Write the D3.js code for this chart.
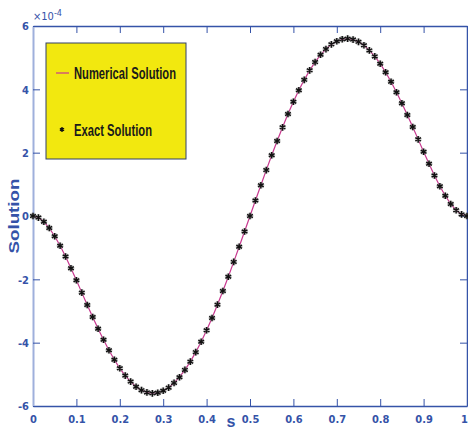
<!DOCTYPE html>
<html>
<head>
<meta charset="utf-8">
<script src="https://cdn.jsdelivr.net/npm/d3@7"></script>
<style>
  body { margin: 0; background: #fff; }
  svg text { font-family: "DejaVu Sans Condensed", "Liberation Sans Narrow", "Liberation Sans", sans-serif; font-weight: bold; }
  svg text.narrow { font-family: "Liberation Sans", Arial, sans-serif; }
</style>
</head>
<body>
<div id="chart"></div>
<script>
// s grid (81 nodes)
const sValues = [
  0, 0.0125, 0.025, 0.0375, 0.05, 0.0625, 0.075, 0.0875, 0.1, 0.1125,
  0.125, 0.1375, 0.15, 0.1625, 0.175, 0.1875, 0.2, 0.2125, 0.225, 0.2375,
  0.25, 0.2625, 0.275, 0.2875, 0.3, 0.3125, 0.325, 0.3375, 0.35, 0.3625,
  0.375, 0.3875, 0.4, 0.4125, 0.425, 0.4375, 0.45, 0.4625, 0.475, 0.4875,
  0.5, 0.5125, 0.525, 0.5375, 0.55, 0.5625, 0.575, 0.5875, 0.6, 0.6125,
  0.625, 0.6375, 0.65, 0.6625, 0.675, 0.6875, 0.7, 0.7125, 0.725, 0.7375,
  0.75, 0.7625, 0.775, 0.7875, 0.8, 0.8125, 0.825, 0.8375, 0.85, 0.8625,
  0.875, 0.8875, 0.9, 0.9125, 0.925, 0.9375, 0.95, 0.9625, 0.975, 0.9875, 1
];

// solution values, in units of 1e-4
const numericalSol = [
  0, -0.05, -0.18, -0.38, -0.64, -0.94, -1.28, -1.65, -2.03, -2.42,
  -2.81, -3.19, -3.56, -3.91, -4.24, -4.54, -4.81, -5.04, -5.23, -5.39,
  -5.50, -5.57, -5.60, -5.58, -5.52, -5.42, -5.27, -5.09, -4.86, -4.60,
  -4.30, -3.97, -3.61, -3.22, -2.80, -2.37, -1.92, -1.45, -0.97, -0.49,
  0, 0.49, 0.97, 1.45, 1.92, 2.37, 2.80, 3.22, 3.61, 3.97,
  4.30, 4.60, 4.86, 5.09, 5.27, 5.42, 5.52, 5.58, 5.60, 5.57,
  5.50, 5.39, 5.23, 5.04, 4.81, 4.54, 4.24, 3.91, 3.56, 3.19,
  2.81, 2.42, 2.03, 1.65, 1.28, 0.94, 0.64, 0.38, 0.18, 0.05, 0
];
const exactSol = [
  0, -0.05, -0.18, -0.38, -0.64, -0.94, -1.28, -1.65, -2.03, -2.42,
  -2.81, -3.19, -3.56, -3.91, -4.24, -4.54, -4.81, -5.04, -5.23, -5.39,
  -5.50, -5.57, -5.60, -5.58, -5.52, -5.42, -5.27, -5.09, -4.86, -4.60,
  -4.30, -3.97, -3.61, -3.22, -2.80, -2.37, -1.92, -1.45, -0.97, -0.49,
  0, 0.49, 0.97, 1.45, 1.92, 2.37, 2.80, 3.22, 3.61, 3.97,
  4.30, 4.60, 4.86, 5.09, 5.27, 5.42, 5.52, 5.58, 5.60, 5.57,
  5.50, 5.39, 5.23, 5.04, 4.81, 4.54, 4.24, 3.91, 3.56, 3.19,
  2.81, 2.42, 2.03, 1.65, 1.28, 0.94, 0.64, 0.38, 0.18, 0.05, 0
];

const xTicks = [0, 0.1, 0.2, 0.3, 0.4, 0.5, 0.6, 0.7, 0.8, 0.9, 1];
const yTicks = [-6, -4, -2, 0, 2, 4, 6];
const legendLabels = ["Numerical Solution", "Exact Solution"];

const width = 468, height = 431;
const margin = { top: 26, right: 1, bottom: 25, left: 33 };
const axisColor = "#3553a8";
const lineColor = "#c8388f";

const svg = d3.select("#chart").append("svg")
  .attr("width", width).attr("height", height);

const x = d3.scaleLinear().domain([0, 1]).range([margin.left, width - margin.right]);
const y = d3.scaleLinear().domain([-6, 6]).range([height - margin.bottom, margin.top]);

// axes (MATLAB-like box, ticks inward)
const tickLen = 7;
const bottomAxis = svg.append("g")
  .attr("transform", `translate(0,${y(-6)})`)
  .call(d3.axisBottom(x).tickValues(xTicks).tickSizeInner(-tickLen).tickSizeOuter(0)
    .tickPadding(9).tickFormat(d => String(d)));
const topAxis = svg.append("g")
  .attr("transform", `translate(0,${y(6)})`)
  .call(d3.axisTop(x).tickValues(xTicks).tickSizeInner(-tickLen).tickSizeOuter(0).tickFormat(""));
const leftAxis = svg.append("g")
  .attr("transform", `translate(${x(0)},0)`)
  .call(d3.axisLeft(y).tickValues(yTicks).tickSizeInner(-tickLen).tickSizeOuter(0)
    .tickPadding(4).tickFormat(d => String(d)));
const rightAxis = svg.append("g")
  .attr("transform", `translate(${x(1)},0)`)
  .call(d3.axisRight(y).tickValues(yTicks).tickSizeInner(-tickLen).tickSizeOuter(0).tickFormat(""));

[bottomAxis, topAxis, leftAxis, rightAxis].forEach(g => {
  g.select(".domain").attr("stroke", axisColor).attr("stroke-width", 1.5);
  g.selectAll(".tick line").attr("stroke", axisColor).attr("stroke-width", 1);
  g.selectAll(".tick text").attr("fill", axisColor).attr("font-size", 11);
});
leftAxis.select(".domain").attr("stroke", "#9fb0dc").attr("stroke-width", 2);
leftAxis.selectAll(".tick text").attr("dy", "0.35em");
// keep the last x label inside the window
bottomAxis.selectAll(".tick text").filter(d => d === 1).attr("dx", -3);

// axis labels
svg.append("text")
  .attr("class", "narrow")
  .attr("x", 231).attr("y", 427)
  .attr("text-anchor", "middle")
  .attr("fill", axisColor).attr("font-size", 16)
  .text("s");

svg.append("text")
  .attr("class", "narrow")
  .attr("transform", `translate(19,${(y(6) + y(-6)) / 2}) rotate(-90)`)
  .attr("text-anchor", "middle")
  .attr("fill", axisColor).attr("font-size", 14)
  .attr("textLength", 75).attr("lengthAdjust", "spacingAndGlyphs")
  .text("Solution");

// exponent
const expo = svg.append("text")
  .attr("x", 33).attr("y", 20)
  .attr("fill", axisColor).attr("font-size", 11)
  .style("font-weight", "normal");
expo.append("tspan").text("\u00d710");
expo.append("tspan").attr("dy", -4).attr("font-size", 9).text("-4");

// numerical solution line
const pts = sValues.map((s, i) => [s, numericalSol[i]]);
svg.append("path")
  .datum(pts)
  .attr("fill", "none")
  .attr("stroke", lineColor)
  .attr("stroke-width", 1.2)
  .attr("d", d3.line().x(d => x(d[0])).y(d => y(d[1])));

// exact solution markers
const star = d3.symbol().type(d3.symbolAsterisk).size(30);
const marks = svg.append("g");
sValues.forEach((s, i) => {
  marks.append("path")
    .attr("transform", `translate(${x(s)},${y(exactSol[i])})`)
    .attr("d", star())
    .attr("fill", "none")
    .attr("stroke", "#888")
    .attr("stroke-width", 3)
    .attr("opacity", 0.5);
  marks.append("path")
    .attr("transform", `translate(${x(s)},${y(exactSol[i])})`)
    .attr("d", star())
    .attr("fill", "none")
    .attr("stroke", "#111")
    .attr("stroke-width", 1.4);
});

// legend
const legend = svg.append("g");
legend.append("rect")
  .attr("x", 46).attr("y", 43).attr("width", 140).attr("height", 116)
  .attr("fill", "#f2e80f").attr("stroke", "#33406a").attr("stroke-width", 1);
legend.append("line")
  .attr("x1", 56).attr("x2", 69).attr("y1", 73).attr("y2", 73)
  .attr("stroke", lineColor).attr("stroke-width", 1.2);
legend.append("path")
  .attr("transform", "translate(62,129.5)")
  .attr("d", d3.symbol().type(d3.symbolAsterisk).size(16)())
  .attr("fill", "none").attr("stroke", "#111").attr("stroke-width", 1.4);
legend.selectAll("text.lab")
  .data(legendLabels)
  .join("text")
  .attr("class", "lab narrow")
  .attr("x", 74)
  .attr("y", (d, i) => i === 0 ? 79 : 136)
  .attr("fill", "#1a1a1a")
  .attr("font-size", 17)
  .attr("textLength", (d, i) => i === 0 ? 102 : 78)
  .attr("lengthAdjust", "spacingAndGlyphs")
  .text(d => d);
</script>
</body>
</html>
